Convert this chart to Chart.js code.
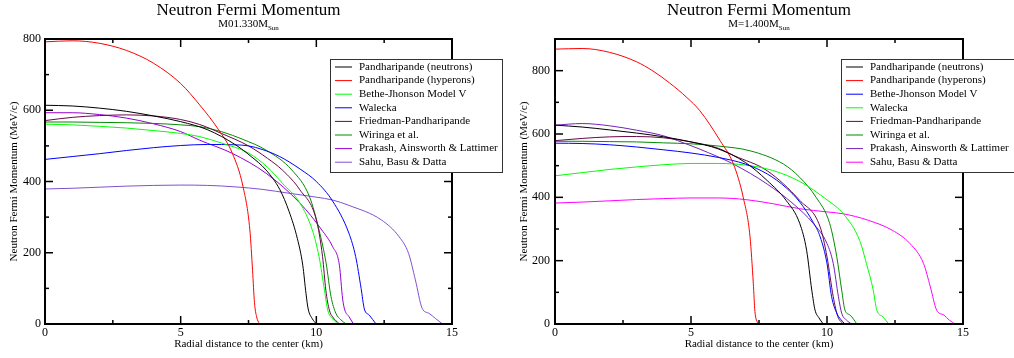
<!DOCTYPE html>
<html>
<head>
<meta charset="utf-8">
<script src="https://cdn.jsdelivr.net/npm/chart.js@4.4.1/dist/chart.umd.min.js"></script>
<style>
  body { margin: 0; background: #fff; }
  canvas { position: absolute; top: 0; }
  #leftChart { left: 0; }
  #rightChart { left: 507px; }
</style>
</head>
<body>
<canvas id="leftChart" width="507" height="358"></canvas>
<canvas id="rightChart" width="507" height="358"></canvas>
<script>
// [radius (km), neutron Fermi momentum (MeV/c)]

// M = 1.330 Msun
var L_neutrons = [[0,614],[1,612],[2,606],[3,597],[4,584],[5,568],[6,545],[7,504],[7.6,470],[8.15,432],[8.65,378],[9.0,315],[9.3,240],[9.5,165],[9.62,85],[9.7,42],[9.85,15],[10,0]];
var L_hyperons = [[0,792],[1,795],[2,788],[3,768],[4,732],[5,675],[5.7,615],[6.4,545],[6.9,480],[7.3,385],[7.55,264],[7.65,150],[7.72,60],[7.8,20],[7.9,0]];
var L_bethe = [[0,561],[1,559],[2,555],[3,550],[4,543],[5,535],[5.7,526],[6.5,508],[7.5,480],[8.2,440],[8.75,395],[9.4,339],[9.85,264],[10.1,189],[10.3,95],[10.42,39],[10.6,15],[10.78,0]];
var L_walecka = [[0,462],[1,470],[2,478],[3,487],[4,495],[5,501],[6,504],[7,503],[7.5,500],[8,490],[8.65,470],[9.4,435],[10,400],[10.6,345],[11.2,255],[11.45,189],[11.65,100],[11.77,42],[11.95,25],[12.2,0]];
var L_friedman = [[0,571],[1,580],[2,585],[3,587],[4,584],[5,574],[5.7,560],[6.5,535],[7.5,500],[8.2,465],[8.75,432],[9.4,376],[10,292],[10.23,189],[10.35,95],[10.48,39],[10.6,20],[10.85,0]];
var L_wiringa = [[0,567],[1,567],[2,566],[3,565],[4,563],[5,559],[5.7,554],[6.5,540],[7.3,518],[8.15,488],[9.1,432],[9.75,357],[10.1,264],[10.36,171],[10.54,77],[10.72,30],[10.9,12],[11.1,0]];
var L_prakash = [[0,593],[1,593],[2,588],[3,578],[4,562],[5,540],[5.7,516],[6.9,479],[8.15,423],[9.4,339],[10.2,264],[10.6,217],[10.85,165],[10.97,70],[11.05,39],[11.2,21],[11.37,0]];
var L_sahu = [[0,379],[1,381],[2,384],[3,387],[4,389],[5,390],[6,389],[7,385],[8,378],[9,367],[10,356],[10.6,348],[11.2,333],[12.4,292],[13.05,245],[13.4,198],[13.65,124],[13.9,44],[14.15,30],[14.4,15],[14.65,0]];

// M = 1.400 Msun
var R_neutrons = [[0,628],[1,622],[2,613],[3,603],[4,591],[5,575],[6,553],[7,510],[7.8,453],[8.5,390],[9,317],[9.25,233],[9.44,107],[9.56,44],[9.7,20],[9.86,0]];
var R_hyperons = [[0,868],[1,870],[2,858],[3,828],[3.6,799],[4.2,762],[4.85,715],[5.33,673],[6.07,579],[6.56,505],[6.92,400],[7.17,275],[7.29,129],[7.35,40],[7.46,0]];
var R_bethe = [[0,571],[1,570],[2,566],[3,559],[4,550],[5,540],[6,526],[7,505],[7.8,474],[8.5,430],[9,385],[9.5,320],[9.75,275],[10,191],[10.17,86],[10.36,34],[10.5,15],[10.66,0]];
var R_walecka = [[0,468],[1,478],[2,488],[3,496],[4,503],[5,507],[6,507],[7,502],[8,485],[9,450],[10,392],[10.6,348],[11.2,264],[11.45,191],[11.7,107],[11.83,44],[12.05,23],[12.27,0]];
var R_friedman = [[0,579],[1,586],[2,591],[3,592],[4,588],[5,575],[6,555],[6.6,531],[7.8,484],[9,390],[9.75,306],[10,212],[10.23,86],[10.4,23],[10.6,0]];
var R_wiringa = [[0,577],[1,577],[2,576],[3,575],[4,572],[5,569],[6,562],[7.17,547],[8.4,505],[9,463],[9.6,400],[10.1,317],[10.36,212],[10.54,107],[10.66,44],[10.85,28],[11.1,0]];
var R_prakash = [[0,628],[1,633],[2,626],[3,612],[4,594],[5,563],[5.33,552],[6.56,505],[7.8,442],[8.75,380],[9.5,317],[10,254],[10.23,191],[10.42,86],[10.54,34],[10.72,12],[10.9,0]];
var R_sahu = [[0,382],[1,385],[2,389],[3,393],[4,396],[5,398],[6,398],[7,393],[8,380],[9,364],[10,354],[10.6,348],[11.5,328],[12.4,296],[13.05,254],[13.55,191],[13.8,117],[14.03,44],[14.3,28],[14.5,12],[14.71,0]];

var curveLabels = ["Pandharipande (neutrons)", "Pandharipande (hyperons)", "Bethe-Jhonson Model V", "Walecka",
  "Friedman-Pandharipande", "Wiringa et al.", "Prakash, Ainsworth & Lattimer", "Sahu, Basu & Datta"];

var xLabels = [0, 5, 10, 15];
var xMinor = [2.5, 7.5, 12.5];
var yLabels = [0, 200, 400, 600, 800];
var yMinor = [100, 300, 500, 700];

var FONT = "'Liberation Serif', 'DejaVu Serif', serif";

// frame with inward ticks on all four sides
var framePlugin = {
  id: "frame",
  afterDatasetsDraw: function (chart) {
    var ctx = chart.ctx, a = chart.chartArea, x = chart.scales.x, y = chart.scales.y;
    ctx.save();
    ctx.strokeStyle = "#000";
    ctx.lineWidth = 1.5;
    function tick(px, py, dx, dy) {
      ctx.beginPath(); ctx.moveTo(px, py); ctx.lineTo(px + dx, py + dy); ctx.stroke();
    }
    xLabels.forEach(function (v) { var p = x.getPixelForValue(v); tick(p, a.bottom, 0, -8); tick(p, a.top, 0, 8); });
    xMinor.forEach(function (v) { var p = x.getPixelForValue(v); tick(p, a.bottom, 0, -4); tick(p, a.top, 0, 4); });
    yLabels.forEach(function (v) { var p = y.getPixelForValue(v); tick(a.left, p, 8, 0); tick(a.right, p, -8, 0); });
    yMinor.forEach(function (v) { var p = y.getPixelForValue(v); tick(a.left, p, 4, 0); tick(a.right, p, -4, 0); });
    ctx.lineWidth = 2;
    ctx.strokeRect(a.left, a.top, a.right - a.left, a.bottom - a.top);
    ctx.restore();
  }
};

// title + subtitle with a subscript
var titlePlugin = {
  id: "titles",
  afterDraw: function (chart, args, opts) {
    var ctx = chart.ctx, a = chart.chartArea;
    var cx = (a.left + a.right) / 2;
    ctx.save();
    ctx.fillStyle = "#000";
    ctx.textBaseline = "alphabetic";
    ctx.textAlign = "center";
    ctx.font = "17px " + FONT;
    ctx.fillText(opts.title, cx, 15);
    ctx.font = "11px " + FONT;
    var w1 = ctx.measureText(opts.sub).width;
    ctx.font = "7px " + FONT;
    var w2 = ctx.measureText(opts.subscript).width;
    var sx = cx - (w1 + w2) / 2;
    ctx.textAlign = "left";
    ctx.font = "11px " + FONT;
    ctx.fillText(opts.sub, sx, 27);
    ctx.font = "7px " + FONT;
    ctx.fillText(opts.subscript, sx + w1, 30);
    ctx.restore();
  }
};

// boxed legend inside the plot
var boxLegend = {
  id: "boxLegend",
  afterDraw: function (chart, args, opts) {
    var ctx = chart.ctx;
    ctx.save();
    ctx.fillStyle = "#fff";
    ctx.fillRect(opts.x, opts.y, opts.w, opts.h);
    ctx.strokeStyle = "#333";
    ctx.lineWidth = 1;
    ctx.strokeRect(opts.x + 0.5, opts.y + 0.5, opts.w, opts.h);
    ctx.font = "11px " + FONT;
    ctx.textBaseline = "middle";
    ctx.textAlign = "left";
    chart.data.datasets.forEach(function (ds, i) {
      var cy = opts.y + 8 + i * 13.6;
      ctx.strokeStyle = ds.borderColor;
      ctx.beginPath(); ctx.moveTo(opts.x + 5, cy); ctx.lineTo(opts.x + 22, cy); ctx.stroke();
      ctx.fillStyle = "#000";
      ctx.fillText(ds.label, opts.x + 29, cy);
    });
    ctx.restore();
  }
};

function makeChart(id, series, colors, yMax, yAxisWidth, padRight, yTitlePad, yTickPad, subText, legendPos) {
  var ctx = document.getElementById(id).getContext("2d");
  return new Chart(ctx, {
    type: "line",
    data: {
      datasets: series.map(function (s, i) {
        return {
          label: curveLabels[i],
          data: s.map(function (p) { return { x: p[0], y: p[1] }; }),
          borderColor: colors[i],
          borderWidth: 1,
          pointRadius: 0,
          fill: false,
          cubicInterpolationMode: "monotone"
        };
      })
    },
    options: {
      responsive: false,
      animation: false,
      devicePixelRatio: 1,
      layout: { padding: { left: 0, right: padRight, top: 39, bottom: 0 } },
      plugins: {
        legend: { display: false },
        tooltip: { enabled: false },
        titles: { title: "Neutron Fermi Momentum", sub: subText, subscript: "Sun" },
        boxLegend: legendPos
      },
      scales: {
        x: {
          type: "linear", min: 0, max: 15,
          afterBuildTicks: function (s) { s.ticks = xLabels.map(function (v) { return { value: v }; }); },
          afterFit: function (s) { s.height = 34; },
          grid: { display: false, drawTicks: false },
          border: { display: false },
          ticks: { color: "#000", font: { family: FONT, size: 12 }, padding: 2, maxRotation: 0, autoSkip: false },
          title: { display: true, text: "Radial distance to the center (km)", color: "#000",
                   font: { family: FONT, size: 11 }, padding: { top: 0, bottom: 7 } }
        },
        y: {
          type: "linear", min: 0, max: yMax,
          afterBuildTicks: function (s) { s.ticks = yLabels.map(function (v) { return { value: v }; }); },
          afterFit: function (s) { s.width = yAxisWidth; },
          grid: { display: false, drawTicks: false },
          border: { display: false },
          ticks: { color: "#000", font: { family: FONT, size: 12 }, padding: yTickPad, autoSkip: false },
          title: { display: true, text: "Neutron Fermi Momentum (MeV/c)", color: "#000",
                   font: { family: FONT, size: 11 }, padding: { top: yTitlePad, bottom: 0 } }
        }
      }
    },
    plugins: [framePlugin, titlePlugin, boxLegend]
  });
}

makeChart("leftChart",
  [L_neutrons, L_hyperons, L_bethe, L_walecka, L_friedman, L_wiringa, L_prakash, L_sahu],
  ["#000000", "#ff0000", "#00ff00", "#0000ff", "#670748", "#008b00", "#9400d3", "#8050d0"],
  800, 45, 55, 8, 4, "M01.330M",
  { x: 330, y: 59, w: 172, h: 113 });

makeChart("rightChart",
  [R_neutrons, R_hyperons, R_bethe, R_walecka, R_friedman, R_wiringa, R_prakash, R_sahu],
  ["#000000", "#ff0000", "#0000ff", "#00ff00", "#670748", "#008b00", "#7221bc", "#ff00ff"],
  900, 48, 51, 11, 5, "M=1.400M",
  { x: 334, y: 59, w: 190, h: 113 });
</script>
</body>
</html>
